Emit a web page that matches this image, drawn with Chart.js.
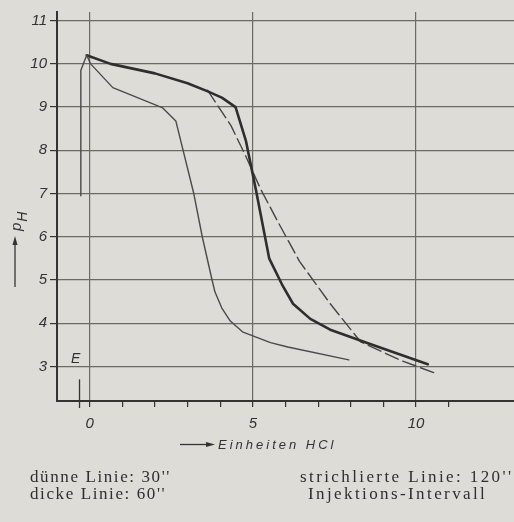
<!DOCTYPE html>
<html>
<head>
<meta charset="utf-8">
<script src="https://cdn.jsdelivr.net/npm/chart.js@4/dist/chart.umd.min.js"></script>
<style>
  html, body { margin: 0; padding: 0; background: #dddcd6; overflow: hidden; }
  #wrap { position: relative; width: 514px; height: 522px; }
  canvas { position: absolute; left: 0; top: 0; }
  .lbl { position: absolute; color: #333; white-space: nowrap; }
  .sans { font-family: "Liberation Sans", Arial, sans-serif; font-style: italic; }
  .serif { font-family: "Liberation Serif", serif; font-size: 17px; line-height: 18px; letter-spacing: 1.6px; color: #2e2e2e; }
  .right { letter-spacing: 2.4px; }
</style>
</head>
<body>
<div id="wrap">
  <canvas id="chart" width="514" height="522"></canvas>
  <div class="lbl sans" id="phTitle" style="left:8px;top:231px;font-size:15px;line-height:15px;transform:rotate(-90deg);transform-origin:left top;">p<span style="position:relative;top:6px;left:1px;font-size:14px;">H</span></div>
  <div class="lbl sans" style="left:71px;top:350px;font-size:14px;line-height:16px;">E</div>
  <div class="lbl sans" style="left:218px;top:437px;font-size:13px;line-height:15px;letter-spacing:3px;">Einheiten HCl</div>
  <div class="lbl serif" style="left:30px;top:468px;">dünne Linie: 30''</div>
  <div class="lbl serif" style="left:30px;top:485px;">dicke Linie: 60''</div>
  <div class="lbl serif right" style="left:300px;top:468px;">strichlierte Linie: 120''</div>
  <div class="lbl serif right" style="left:308px;top:485px;">Injektions-Intervall</div>
</div>
<script>
// Einheiten HCl (x) / pH (y)
const startX = [-0.27, -0.27, -0.09];
const startY = [6.95, 9.85, 10.2];

// duenne Linie: 30''
const thinX = [-0.09, 0.03, 0.71, 2.24, 2.64, 3.19, 3.45, 3.75, 3.84, 4.05, 4.31, 4.68, 5.54, 6.07, 7.94];
const thinY = [10.2, 10.0, 9.45, 8.98, 8.68, 7.0, 6.0, 5.0, 4.72, 4.35, 4.05, 3.8, 3.55, 3.45, 3.15];

// dicke Linie: 60''
const thickX = [-0.09, 0.64, 2.0, 3.0, 3.6, 4.05, 4.47, 4.79, 5.09, 5.5, 5.89, 6.23, 6.76, 7.37, 8.7, 10.36];
const thickY = [10.2, 10.0, 9.78, 9.55, 9.37, 9.22, 9.0, 8.21, 7.1, 5.5, 4.9, 4.45, 4.1, 3.85, 3.49, 3.05];

// strichlierte Linie: 120''
const dashX = [3.61, 4.33, 4.76, 5.24, 5.8, 6.43, 7.37, 8.3, 9.53, 10.6];
const dashY = [9.39, 8.57, 7.9, 7.1, 6.3, 5.43, 4.45, 3.57, 3.14, 2.84];

const phTicks = [3, 4, 5, 6, 7, 8, 9, 10, 11];
const hclTicks = [0, 1, 2, 3, 4, 5, 6, 7, 8, 9, 10, 11];
const hclLabelled = [0, 5, 10];
const injectionX = -0.31; // E

const pts = (xs, ys) => xs.map((x, i) => ({ x, y: ys[i] }));

const ink = '#333';
const gridCol = '#6b6b66';
const tickFont = { family: '"Liberation Sans", Arial, sans-serif', style: 'italic', size: 15 };

const extras = {
  id: 'extras',
  afterDraw(chart) {
    const { ctx, scales } = chart;
    const xs = scales.x;
    const ys = scales.y;
    ctx.save();
    ctx.strokeStyle = ink;
    ctx.fillStyle = ink;
    ctx.lineWidth = 1.3;

    // E marker
    const ex = xs.getPixelForValue(injectionX);
    ctx.beginPath();
    ctx.moveTo(ex, ys.getPixelForValue(2.7));
    ctx.lineTo(ex, ys.bottom + 7);
    ctx.stroke();

    // arrow next to pH
    ctx.beginPath();
    ctx.moveTo(15, 287);
    ctx.lineTo(15, 244);
    ctx.stroke();
    ctx.beginPath();
    ctx.moveTo(15, 236);
    ctx.lineTo(12.5, 245);
    ctx.lineTo(17.5, 245);
    ctx.closePath();
    ctx.fill();

    // arrow before "Einheiten HCl"
    ctx.beginPath();
    ctx.moveTo(180, 444.5);
    ctx.lineTo(207, 444.5);
    ctx.stroke();
    ctx.beginPath();
    ctx.moveTo(215, 444.5);
    ctx.lineTo(206, 442);
    ctx.lineTo(206, 447);
    ctx.closePath();
    ctx.fill();
    ctx.restore();
  }
};

new Chart(document.getElementById('chart'), {
  type: 'line',
  data: {
    datasets: [
      {
        label: 'Anstieg',
        data: pts(startX, startY),
        borderColor: '#4a4a4a',
        borderWidth: 1.4,
      },
      {
        label: "dünne Linie: 30''",
        data: pts(thinX, thinY),
        borderColor: '#4a4a4a',
        borderWidth: 1.4,
      },
      {
        label: "dicke Linie: 60''",
        data: pts(thickX, thickY),
        borderColor: '#2e2e2e',
        borderWidth: 2.6,
      },
      {
        label: "strichlierte Linie: 120''",
        data: pts(dashX, dashY),
        borderColor: '#454545',
        borderWidth: 1.4,
        borderDash: [14, 5],
      },
    ],
  },
  options: {
    responsive: false,
    animation: false,
    parsing: false,
    layout: { padding: { left: 0, right: 0, top: 12, bottom: 0 } },
    elements: {
      point: { radius: 0 },
      line: { tension: 0, borderJoinStyle: 'round', borderCapStyle: 'round' },
    },
    plugins: {
      legend: { display: false },
      tooltip: { enabled: false },
    },
    scales: {
      x: {
        type: 'linear',
        min: -1,
        max: 13,
        afterFit: (s) => { s.height = 121; },
        afterBuildTicks: (s) => { s.ticks = hclTicks.map((v) => ({ value: v })); },
        border: { display: true, color: ink, width: 2 },
        grid: {
          color: (c) => (hclLabelled.includes(c.tick && c.tick.value) ? gridCol : 'rgba(0,0,0,0)'),
          tickColor: ink,
          lineWidth: 1.2,
          tickLength: 6,
        },
        ticks: {
          autoSkip: false,
          maxRotation: 0,
          padding: 8,
          color: ink,
          font: tickFont,
          callback: (v) => (hclLabelled.includes(v) ? String(v) : ''),
        },
      },
      y: {
        type: 'linear',
        min: 2.2,
        max: 11.2,
        afterFit: (s) => { s.width = 57; },
        afterBuildTicks: (s) => { s.ticks = phTicks.map((v) => ({ value: v })); },
        border: { display: true, color: ink, width: 2 },
        grid: {
          color: gridCol,
          tickColor: ink,
          lineWidth: 1.2,
          tickLength: 7,
        },
        ticks: {
          autoSkip: false,
          padding: 3,
          color: ink,
          font: tickFont,
        },
      },
    },
  },
  plugins: [extras],
});
</script>
</body>
</html>
